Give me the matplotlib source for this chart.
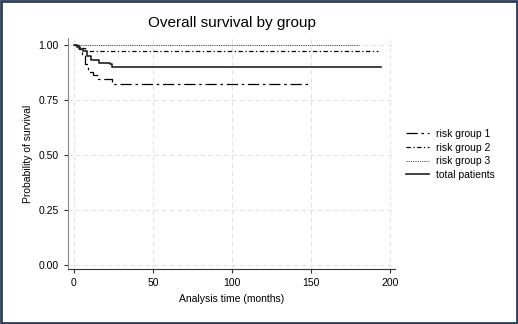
import matplotlib
matplotlib.use('Agg')
import matplotlib.pyplot as plt
from matplotlib.patches import Rectangle

plt.rcParams['font.family'] = ['Liberation Sans', 'DejaVu Sans']

# step points (time in months, survival probability)
t_g1 = [0, 3, 5, 7, 9, 12, 15, 24, 148]
s_g1 = [1.00, 0.98, 0.955, 0.91, 0.877, 0.86, 0.845, 0.82, 0.82]
t_g2 = [0, 2, 7, 192]
s_g2 = [1.00, 0.985, 0.97, 0.97]
t_g3 = [0, 180]
s_g3 = [1.00, 1.00]
t_tot = [0, 2, 4, 6, 8, 11, 16, 23, 24, 194]
s_tot = [1.00, 0.99, 0.98, 0.97, 0.95, 0.93, 0.915, 0.91, 0.90, 0.90]

labels = ['risk group 1', 'risk group 2', 'risk group 3', 'total patients']
xticks = [0, 50, 100, 150, 200]
yticks = [0.00, 0.25, 0.50, 0.75, 1.00]

fig = plt.figure(figsize=(5.18, 3.24), dpi=100)
ax = fig.add_axes([0.131, 0.170, 0.632, 0.713])

ax.step(t_g1, s_g1, where='post', color='black', lw=0.9, ls=(0, (9, 3, 2, 3)), label=labels[0])
ax.step(t_g2, s_g2, where='post', color='black', lw=0.9, ls=(0, (3.5, 2, 1, 2)), label=labels[1])
ax.step(t_g3, s_g3, where='post', color='#555555', lw=0.8, ls=(0, (1, 1)), label=labels[2])
ax.step(t_tot, s_tot, where='post', color='#222222', lw=1.2, ls='-', label=labels[3])

ax.set_xlim(-3.8, 203)
ax.set_ylim(-0.018, 1.03)
ax.set_xticks(xticks)
ax.set_yticks(yticks)
ax.set_yticklabels(['%.2f' % v for v in yticks])
ax.grid(True, color='#e3e3e3', ls=(0, (4, 3)), lw=0.8)
ax.set_axisbelow(True)
for s in ['top', 'right']:
    ax.spines[s].set_visible(False)
ax.spines['left'].set_color('#888888')
ax.spines['bottom'].set_color('#333333')
ax.tick_params(labelsize=7.5, length=3, width=0.8, color='#333333')

ax.set_xlabel('Analysis time (months)', fontsize=7.5)
ax.set_ylabel('Probability of survival', fontsize=7.5)
ax.set_title('Overall survival by group', fontsize=11, pad=8)

ax.legend(loc='center left', bbox_to_anchor=(1.005, 0.495), frameon=False,
          fontsize=7.5, handlelength=2.2, handletextpad=0.7, labelspacing=0.35)

fig.patches.append(Rectangle((0.002, 0.003), 0.996, 0.994, transform=fig.transFigure,
                             fill=False, edgecolor='#2d3e5c', lw=2))

fig.savefig('out.png', dpi=100)
